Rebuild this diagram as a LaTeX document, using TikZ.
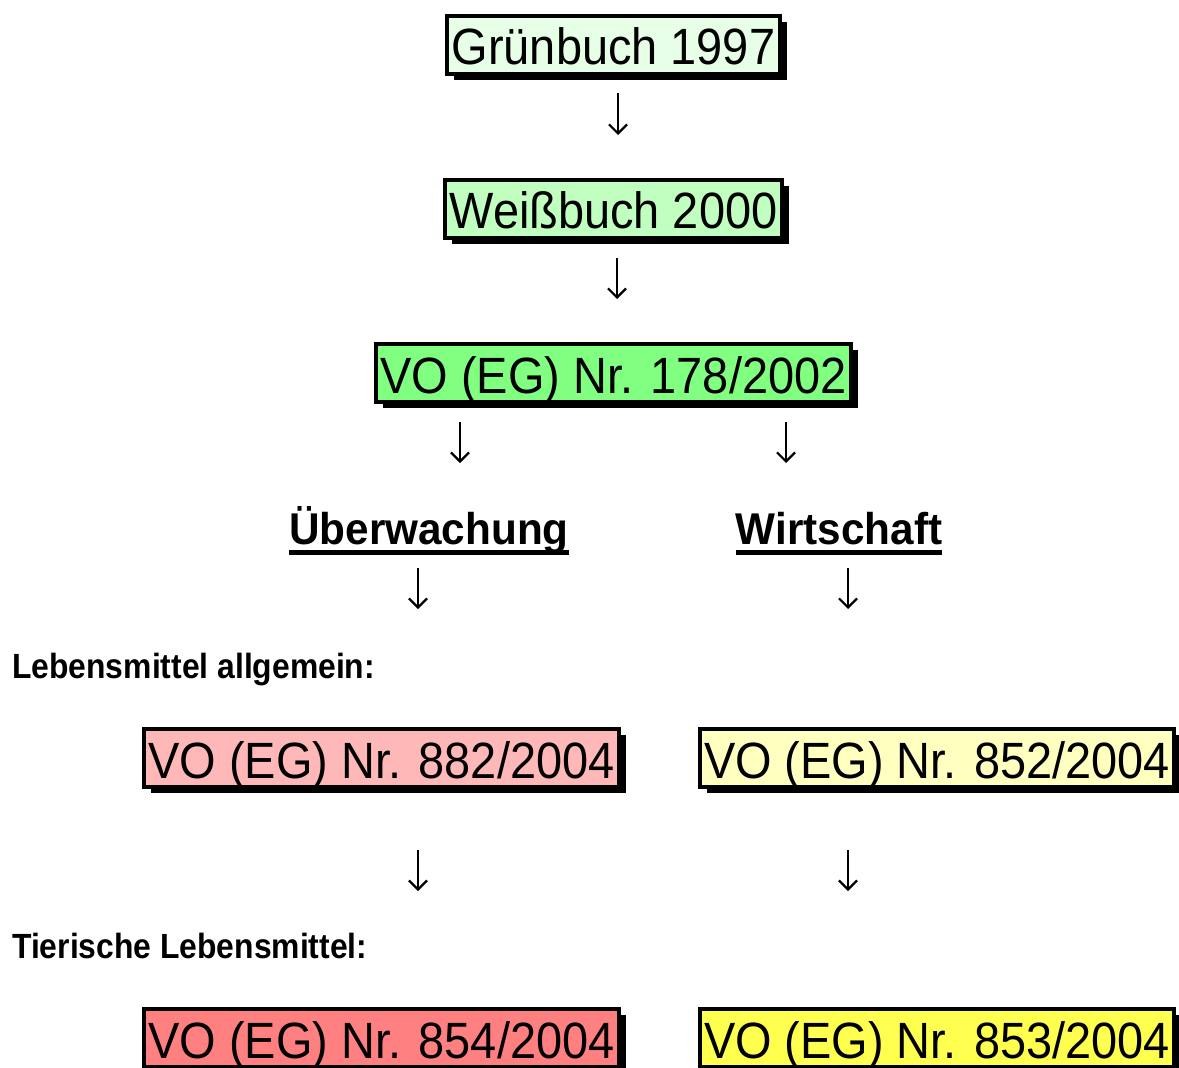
\documentclass[tikz,border=0pt]{standalone}
\usepackage{fontspec}
\setmainfont{Liberation Sans}
\newfontfamily\boxfont[FakeStretch=0.92]{Liberation Sans}
\newfontfamily\headfont[FakeStretch=0.95]{Liberation Sans}
\newfontfamily\sidefont[FakeStretch=0.91]{Liberation Sans}
\usetikzlibrary{shadows,arrows.meta}
\definecolor{cGruen}{RGB}{230,255,230}
\definecolor{cWeiss}{RGB}{192,255,192}
\definecolor{cVO}{RGB}{128,255,128}
\definecolor{cRosa}{RGB}{255,184,184}
\definecolor{cRot}{RGB}{255,128,128}
\definecolor{cHGelb}{RGB}{255,255,192}
\definecolor{cGelb}{RGB}{255,255,80}
\tikzset{
  regbox/.style={draw=black, line width=4pt, fill=#1, inner xsep=4.5pt, inner ysep=1.5pt,
    text height=47.5pt, text depth=7.5pt,
    font=\boxfont\fontsize{51}{51}\selectfont,
    drop shadow={shadow xshift=7pt, shadow yshift=-6pt, fill=black, opacity=1}},
  headtxt/.style={inner sep=0pt, anchor=base, font=\headfont\bfseries\fontsize{44.5}{44.5}\selectfont},
  sidetxt/.style={inner sep=0pt, anchor=base west, font=\sidefont\bfseries\fontsize{35}{35}\selectfont},
  downarr/.style={line width=2.2pt, -{Straight Barb[length=9pt,width=18pt,line width=2.2pt]}},
  uline/.style={line width=4.5pt}
}
\begin{document}
\begin{tikzpicture}[x=1pt,y=-1pt]
\useasboundingbox (0,0) rectangle (1179,1068);
\clip (0,0) rectangle (1179,1068);
% boxes
\node[regbox=cGruen] (gb) at (613.5,44.5) {Grünbuch 1997};
\node[regbox=cWeiss] (wb) at (613.5,208.5) {Weißbuch 2000};
\node[regbox=cVO] (vo178) at (613.5,373) {VO (EG) Nr. 178/2002};
\node[regbox=cRosa] (vo882) at (381.5,758) {VO (EG) Nr. 882/2004};
\node[regbox=cHGelb] (vo852) at (937,758) {VO (EG) Nr. 852/2004};
\node[regbox=cRot] (vo854) at (381.5,1038) {VO (EG) Nr. 854/2004};
\node[regbox=cGelb] (vo853) at (937,1038) {VO (EG) Nr. 853/2004};
% headings
\node[headtxt] (ueb) at (429,544) {Überwachung};
\node[headtxt] (wir) at (839,544) {Wirtschaft};
\draw[uline] ([yshift=-8.5pt]ueb.base west) -- ([yshift=-8.5pt]ueb.base east);
\draw[uline] ([yshift=-8.5pt]wir.base west) -- ([yshift=-8.5pt]wir.base east);
\node[sidetxt] (lma) at (12,678) {Lebensmittel allgemein:};
\node[sidetxt] (tlm) at (12,958) {Tierische Lebensmittel:};
% arrow ends
\coordinate (a1s) at (618,93);  \coordinate (a1e) at (618,135);
\coordinate (a2s) at (617,258); \coordinate (a2e) at (617,299);
\coordinate (a3s) at (460,422); \coordinate (a3e) at (460,463);
\coordinate (a4s) at (786,422); \coordinate (a4e) at (786,463);
\coordinate (a5s) at (418,568); \coordinate (a5e) at (418,609);
\coordinate (a6s) at (848,568); \coordinate (a6e) at (848,609);
\coordinate (a7s) at (418,850); \coordinate (a7e) at (418,891);
\coordinate (a8s) at (848,850); \coordinate (a8e) at (848,891);
\foreach \i in {1,...,8} \draw[downarr] (a\i s) -- (a\i e);
\end{tikzpicture}
\end{document}
